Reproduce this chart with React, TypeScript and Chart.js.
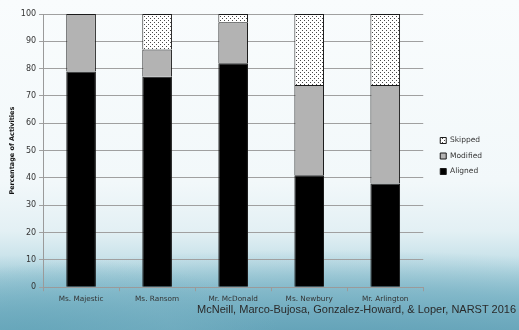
import React, { useEffect, useRef } from "react";
import { Chart, registerables } from "chart.js";

Chart.register(...registerables);

const categories = ["Ms. Majestic", "Ms. Ransom", "Mr. McDonald", "Ms. Newbury", "Mr. Arlington"];
const aligned = [79, 77, 82, 41, 38];
const modified = [21, 10, 15, 33, 36];
const skipped = [0, 13, 3, 26, 26];
const yTicks = [0, 10, 20, 30, 40, 50, 60, 70, 80, 90, 100];
const yTitle = "Percentage of Activities";
const citation = "McNeill, Marco-Bujosa, Gonzalez-Howard, & Loper, NARST 2016";

function makePattern(): CanvasPattern | string {
  const c = document.createElement("canvas");
  c.width = 4;
  c.height = 4;
  const ctx = c.getContext("2d");
  if (!ctx) return "#ddd";
  ctx.fillStyle = "#ffffff";
  ctx.fillRect(0, 0, 4, 4);
  ctx.fillStyle = "#4a4a4a";
  ctx.fillRect(0, 0, 1, 1);
  ctx.fillRect(2, 2, 1, 1);
  const p = ctx.createPattern(c, "repeat");
  return p || "#ddd";
}

const legendShift = {
  id: "legendShift",
  afterLayout(chart: any) {
    const lg = chart.legend;
    if (lg) {
      lg.left += 9;
      lg.right += 9;
      lg.top -= 4;
      lg.bottom -= 4;
    }
  },
};

export default function App() {
  const ref = useRef<HTMLCanvasElement>(null);

  useEffect(() => {
    document.body.style.margin = "0";
    if (!ref.current) return;
    const pattern = makePattern();
    const font = "'DejaVu Sans', Verdana, sans-serif";
    const chart = new Chart(ref.current, {
      type: "bar",
      data: {
        labels: categories,
        datasets: [
          { label: "Aligned", data: aligned, backgroundColor: "#000000", borderColor: "#1a1a1a", borderWidth: 1, barPercentage: 0.39, categoryPercentage: 1 },
          { label: "Modified", data: modified, backgroundColor: "#b3b3b3", borderColor: "#1a1a1a", borderWidth: 1, barPercentage: 0.39, categoryPercentage: 1 },
          { label: "Skipped", data: skipped, backgroundColor: pattern as any, borderColor: "#1a1a1a", borderWidth: 1, barPercentage: 0.39, categoryPercentage: 1 },
        ],
      },
      plugins: [legendShift],
      options: {
        animation: false,
        responsive: false,
        maintainAspectRatio: false,
        layout: { padding: { top: 14, right: 36, bottom: 24, left: 6 } },
        plugins: {
          tooltip: { enabled: false },
          legend: {
            position: "right",
            reverse: true,
            labels: {
              boxWidth: 6,
              boxHeight: 6,
              padding: 8,
              color: "#333",
              font: { family: font, size: 7.5 },
            },
          },
        },
        scales: {
          x: {
            stacked: true,
            grid: { display: true, drawOnChartArea: false, drawTicks: true, tickLength: 4, color: "#9a9a9a", offset: true },
            border: { color: "#9a9a9a" },
            ticks: { color: "#333", font: { family: font, size: 7.3 }, maxRotation: 0, padding: 3 },
          },
          y: {
            stacked: true,
            min: 0,
            max: 100,
            afterBuildTicks: (s: any) => {
              s.ticks = yTicks.map((v) => ({ value: v }));
            },
            grid: { color: "#a0a0a0", tickLength: 4 },
            border: { color: "#9a9a9a" },
            ticks: { color: "#333", font: { family: font, size: 8 }, padding: 3 },
            title: { display: true, text: yTitle, color: "#111", font: { family: font, size: 6.5, weight: "bold" }, padding: 2 },
          },
        },
      },
    });
    return () => chart.destroy();
  }, []);

  return (
    <div
      style={{
        position: "relative",
        width: 519,
        height: 330,
        overflow: "hidden",
        background:
          "radial-gradient(ellipse 260px 80px at 20px 335px, rgba(100,165,185,0.75) 0%, rgba(120,178,196,0.45) 60%, rgba(150,195,210,0) 100%), radial-gradient(ellipse 560px 95px at 320px 345px, rgba(95,160,182,0.8) 0%, rgba(110,170,190,0.55) 60%, rgba(150,195,210,0) 100%), linear-gradient(180deg, #f9fcfd 0%, #f2f8fa 55%, #e3f0f4 70%, #c4e0e8 80%, #97c7d5 90%, #6ea9bd 100%)",
      }}
    >
      <canvas ref={ref} width={519} height={330} style={{ position: "absolute", left: 0, top: 0 }} />
      <div
        style={{
          position: "absolute",
          right: 3,
          top: 303,
          font: "11px 'Liberation Sans', Arial, sans-serif",
          color: "#2a2a2a",
          whiteSpace: "nowrap",
        }}
      >
        {citation}
      </div>
    </div>
  );
}
